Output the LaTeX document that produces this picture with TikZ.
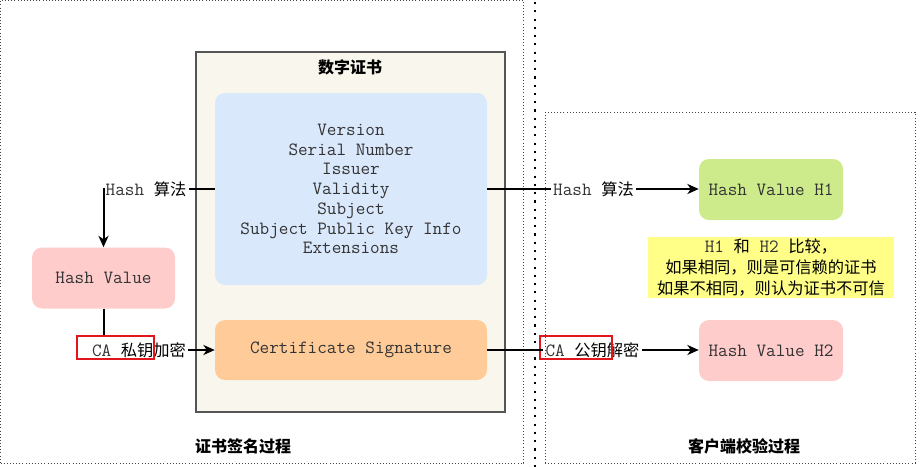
\documentclass[tikz,border=0pt]{standalone}
\usepackage{fontspec}
\setmainfont{Noto Sans CJK SC}
\usetikzlibrary{arrows.meta}
\definecolor{certfill}{HTML}{F9F7ED}
\definecolor{bluefill}{HTML}{DAE8FC}
\definecolor{orangefill}{HTML}{FFCC99}
\definecolor{pinkfill}{HTML}{FFCCCC}
\definecolor{greenfill}{HTML}{CDEB8B}
\definecolor{yellowfill}{HTML}{FFFF88}
\definecolor{textgray}{HTML}{333333}
\definecolor{redline}{HTML}{E0161C}
\definecolor{framegray}{HTML}{444444}
\definecolor{certline}{HTML}{555555}
\newcommand{\mt}[1]{{\ttfamily\fontsize{14}{14.8}\selectfont\color{textgray}#1}}
\begin{document}
\begin{tikzpicture}[x=0.75pt,y=-0.75pt,
  font=\fontsize{12.2}{14.8}\selectfont,
  box/.style={rounded corners=7.5pt, inner sep=0pt, align=center, text=textgray,
    font=\ttfamily\fontsize{14}{14.8}\selectfont},
  conn/.style={line width=1.5pt, black},
  arr/.style={conn, -{Stealth[length=8.5pt,width=7.5pt,inset=2.5pt]}},
  lbl/.style={inner sep=1.5pt, text=black},
  redbox/.style={draw=redline, line width=1.1pt, inner sep=0pt},
  framebox/.style={draw=framegray, line width=0.75pt, dash pattern=on 0.75pt off 1.6pt, inner sep=0pt},
  sepline/.style={draw=black, line width=1.6pt, dash pattern=on 1.6pt off 4.6pt},
  ttl/.style={font=\bfseries\fontsize{12}{14}\selectfont, text=black, inner sep=0pt}
]
\useasboundingbox (0,0) rectangle (920,467);
% frames
\node[framebox, minimum width=392.6pt, minimum height=346.9pt] (leftframe) at (262.25,231.75) {};
\node[framebox, minimum width=277.5pt, minimum height=263.25pt] (rightframe) at (730,287.5) {};
\coordinate (vtop) at (535,2);
\coordinate (vbot) at (535,467);
\draw[sepline] (vtop) -- (vbot);
% certificate
\node[draw=certline, line width=0.8pt, fill=certfill, minimum width=231.75pt, minimum height=270pt, inner sep=0pt] (cert) at (350.5,232) {};
\node[ttl] (certtitle) at (350,67) {数字证书};
\node[box, fill=bluefill, minimum width=204pt, minimum height=144pt] (blue) at (351,189)
  {Version\\Serial Number\\Issuer\\Validity\\Subject\\Subject Public Key Info\\Extensions};
\node[box, fill=orangefill, minimum width=204pt, minimum height=45pt] (orange) at (351,350) {Certificate Signature};
% left process
\node[box, fill=pinkfill, minimum width=107.25pt, minimum height=45.75pt] (hash) at (103.5,278) {Hash Value};
\node[lbl] (lh) at (146,189) {\mt{Hash }算法};
\node[lbl] (lca) at (139,350) {\mt{CA }私钥加密};
\node[redbox, minimum width=57.75pt, minimum height=17.25pt] (reda) at (115.5,347.5) {};
\draw[conn] (blue.west) -- (lh.east);
\draw[arr] (lh.west) -| (hash.north);
\draw[conn] (hash.south) -- (hash.south |- reda.north);
\draw[arr] (lca.east) -- (lca.east -| orange.west);
% right process
\node[box, fill=greenfill, minimum width=108pt, minimum height=45.75pt] (h1) at (771,189.5) {Hash Value H1};
\node[box, fill=pinkfill, minimum width=108pt, minimum height=45.75pt] (h2) at (771,350.5) {Hash Value H2};
\node[fill=yellowfill, minimum width=184.5pt, minimum height=45.75pt, inner sep=0pt, align=center,
  font=\fontsize{12.2}{15.4}\selectfont] (note) at (771,267.5)
  {\mt{H1\ }和\mt{\ H2\ }比较，\\如果相同，则是可信赖的证书\\如果不相同，则认为证书不可信};
\node[lbl] (rh) at (593.5,189) {\mt{Hash }算法};
\node[lbl] (rca) at (592.5,350) {\mt{CA }公钥解密};
\node[redbox, minimum width=54pt, minimum height=17.25pt] (redb) at (576,347.5) {};
\draw[conn] (blue.east) -- (blue.east -| rh.west);
\draw[arr] (rh.east) -- (rh.east -| h1.west);
\draw[conn] (orange.east) -- (orange.east -| rca.west);
\draw[arr] (rca.east) -- (rca.east -| h2.west);
% bottom titles
\node[ttl] (lefttitle) at (243,446) {证书签名过程};
\node[ttl] (righttitle) at (744,446) {客户端校验过程};
\end{tikzpicture}
\end{document}
